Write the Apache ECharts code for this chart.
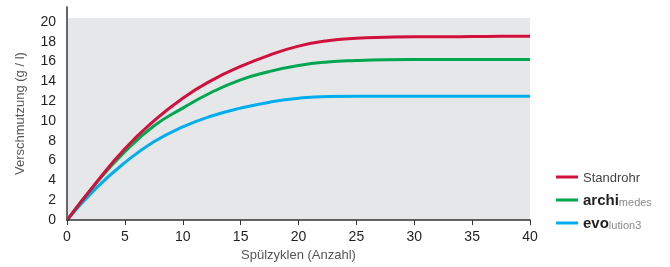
<!DOCTYPE html>
<html>
<head>
<meta charset="utf-8">
<script src="https://cdn.jsdelivr.net/npm/echarts@6/dist/echarts.min.js"></script>
<style>
  html, body { margin: 0; padding: 0; background: #fff; }
  #main { width: 670px; height: 267px; }
</style>
</head>
<body>
<div id="main"></div>
<script>
// Spülzyklen (x) und Verschmutzung (g/l) je Variante
const cycles = [0, 2.5, 5, 7.5, 10, 12.5, 15, 17.5, 20, 22.5, 25, 27.5, 30, 32.5, 35, 37.5, 40];
const standrohr = [0, 3.75, 7.2, 10.0, 12.3, 14.1, 15.5, 16.65, 17.55, 18.1, 18.35, 18.45, 18.5, 18.5, 18.52, 18.54, 18.55];
const archimedes = [0, 3.7, 6.9, 9.5, 11.3, 12.9, 14.15, 15.0, 15.6, 15.95, 16.1, 16.18, 16.2, 16.2, 16.2, 16.2, 16.2];
const evolution = [0, 3.2, 5.8, 7.9, 9.4, 10.5, 11.3, 11.9, 12.3, 12.48, 12.5, 12.5, 12.5, 12.5, 12.5, 12.5, 12.5];
const xTicks = [0, 5, 10, 15, 20, 25, 30, 35, 40];
const yTicks = [0, 2, 4, 6, 8, 10, 12, 14, 16, 18, 20];

const pairs = ys => cycles.map((c, i) => [c, ys[i]]);

const narrow = "'Liberation Sans Narrow', 'Liberation Sans', sans-serif";

const chart = echarts.init(document.getElementById('main'));

const option = {
  animation: false,
  grid: { left: 67, right: 140, top: 7, bottom: 45 },
  legend: {
    orient: 'vertical',
    left: 551,
    top: 167,
    itemWidth: 22,
    itemHeight: 3,
    itemGap: 8,
    icon: 'rect',
    data: ['Standrohr', 'archimedes', 'evolution3'],
    formatter: name => {
      if (name === 'archimedes') return '{b|archi}{s|medes}';
      if (name === 'evolution3') return '{b|evo}{s|lution3}';
      return '{n|' + name + '}';
    },
    textStyle: {
      rich: {
        n: { fontFamily: narrow, fontSize: 13, color: '#444', lineHeight: 16, verticalAlign: 'bottom' },
        b: { fontFamily: 'Liberation Sans', fontWeight: 'bold', fontSize: 15, color: '#231f20', lineHeight: 16, verticalAlign: 'bottom' },
        s: { fontFamily: 'Liberation Sans', fontSize: 11, color: '#8a8a8a', lineHeight: 13, verticalAlign: 'bottom' }
      }
    }
  },
  xAxis: {
    type: 'value',
    min: 0,
    max: 40,
    interval: 5,
    z: 10,
    name: 'Spülzyklen (Anzahl)',
    nameLocation: 'middle',
    nameGap: 27,
    nameTextStyle: { fontFamily: narrow, fontSize: 13, color: '#555' },
    axisLine: { lineStyle: { color: '#333', width: 1.5 } },
    axisTick: { show: true, length: 5, lineStyle: { color: '#333' } },
    axisLabel: {
      margin: 10,
      fontFamily: 'Liberation Sans', fontSize: 14, color: '#231f20',
      formatter: v => xTicks.includes(v) ? String(v) : ''
    },
    splitLine: { show: false }
  },
  yAxis: {
    type: 'value',
    min: 0,
    max: 21.5,
    interval: 2,
    z: 10,
    name: 'Verschmutzung (g / l)',
    nameLocation: 'middle',
    nameGap: 40,
    nameRotate: 90,
    nameTextStyle: { fontFamily: narrow, fontSize: 13, color: '#555' },
    axisLine: { show: true, lineStyle: { color: '#666', width: 2 } },
    axisTick: { show: false },
    axisLabel: {
      margin: 11,
      showMaxLabel: false,
      fontFamily: 'Liberation Sans', fontSize: 14, color: '#231f20',
      formatter: v => yTicks.includes(v) ? String(v) : ''
    },
    splitLine: { show: false }
  },
  series: [
    {
      name: 'Standrohr',
      type: 'line',
      data: pairs(standrohr),
      smooth: true,
      showSymbol: false,
      z: 4,
      color: '#d2103c',
      lineStyle: { width: 3 },
      markArea: {
        silent: true,
        itemStyle: { color: '#e6e7e9' },
        data: [[{ xAxis: 0, yAxis: 0 }, { xAxis: 40, yAxis: 20.4 }]]
      }
    },
    {
      name: 'archimedes',
      type: 'line',
      data: pairs(archimedes),
      smooth: true,
      showSymbol: false,
      z: 3,
      color: '#00a650',
      lineStyle: { width: 3 }
    },
    {
      name: 'evolution3',
      type: 'line',
      data: pairs(evolution),
      smooth: true,
      showSymbol: false,
      z: 2,
      color: '#00aeef',
      lineStyle: { width: 3 }
    }
  ]
};

chart.setOption(option);
</script>
</body>
</html>
